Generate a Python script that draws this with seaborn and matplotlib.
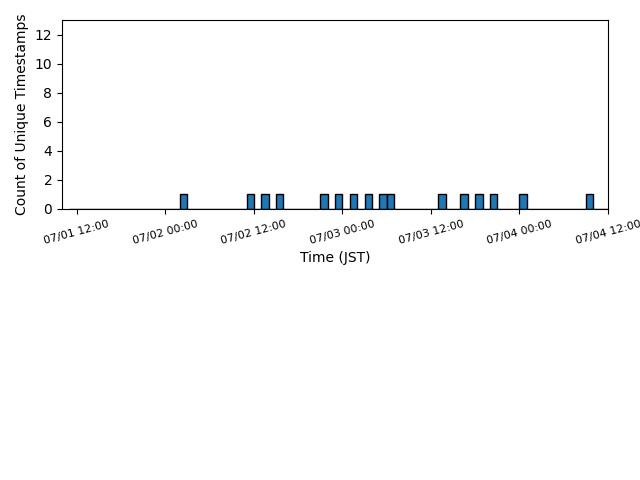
import pandas as pd
import numpy as np
import seaborn as sns
import matplotlib
matplotlib.use("Agg")
import matplotlib.pyplot as plt
import matplotlib.dates as mdates
from matplotlib.ticker import MaxNLocator

# Unique timestamps (JST), one per hour bin
timestamps = [
    "2024-07-02 02:20", "2024-07-02 11:20", "2024-07-02 13:20", "2024-07-02 15:20",
    "2024-07-02 21:20", "2024-07-02 23:20", "2024-07-03 01:20", "2024-07-03 03:20",
    "2024-07-03 05:20", "2024-07-03 06:20", "2024-07-03 13:20", "2024-07-03 16:20",
    "2024-07-03 18:20", "2024-07-03 20:20", "2024-07-04 00:20", "2024-07-04 09:20",
]
bin_start = "2024-07-01 11:00"
bin_end = "2024-07-04 12:00"
xlim_start = "2024-07-01 10:00"
xlim_end = "2024-07-04 12:00"

df = pd.DataFrame({"time": pd.to_datetime(timestamps)})
df["t"] = mdates.date2num(df["time"])

fig, ax = plt.subplots(figsize=(6.4, 4.8), dpi=100)
fig.subplots_adjust(left=0.097, right=0.95, top=0.958, bottom=0.565)

sns.histplot(
    data=df, x="t", ax=ax,
    binwidth=1 / 24,
    binrange=(mdates.date2num(pd.Timestamp(bin_start)), mdates.date2num(pd.Timestamp(bin_end))),
    color="#1f77b4", alpha=1, edgecolor="black", linewidth=1,
)

ax.set_xlim(mdates.date2num(pd.Timestamp(xlim_start)), mdates.date2num(pd.Timestamp(xlim_end)))
ax.set_ylim(0, 13)
ax.yaxis.set_major_locator(MaxNLocator(integer=True))
ax.xaxis.set_major_locator(mdates.HourLocator(byhour=[0, 12]))
ax.xaxis.set_major_formatter(mdates.DateFormatter("%m/%d %H:%M"))
plt.setp(ax.get_xticklabels(), rotation=15, fontsize=8)
ax.set_xlabel("Time (JST)")
ax.set_ylabel("Count of Unique Timestamps")

plt.savefig("out.png", dpi=100)
